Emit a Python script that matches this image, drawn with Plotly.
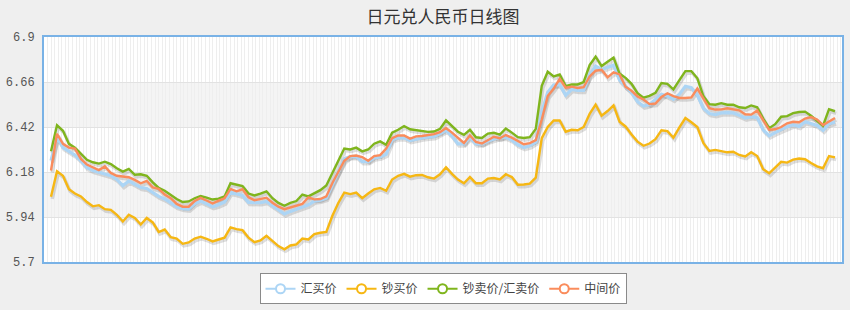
import plotly.graph_objects as go

# ---- data ----
idx = list(range(132))

# 汇买价
buy = [6.241, 6.366, 6.31, 6.29, 6.27, 6.24, 6.203, 6.188, 6.18, 6.172,
       6.16, 6.14, 6.107, 6.132, 6.115, 6.097, 6.092, 6.07, 6.05, 6.036,
       6.015, 5.995, 5.985, 5.982, 6.01, 6.025, 6.01, 5.995, 6.005, 6.02,
       6.072, 6.065, 6.055, 6.018, 6.015, 6.016, 6.023, 6.0, 5.98, 5.956,
       5.97, 5.982, 5.99, 6.005, 6.025, 6.03, 6.04, 6.11, 6.19, 6.25,
       6.262, 6.263, 6.235, 6.235, 6.255, 6.26, 6.275, 6.352, 6.363, 6.362,
       6.347, 6.356, 6.362, 6.366, 6.368, 6.385, 6.402, 6.372, 6.33, 6.33,
       6.365, 6.33, 6.33, 6.345, 6.355, 6.365, 6.365, 6.35, 6.325, 6.31,
       6.32, 6.34, 6.50, 6.605, 6.645, 6.645, 6.59, 6.62, 6.615, 6.615,
       6.70, 6.745, 6.727, 6.74, 6.75, 6.67, 6.635, 6.605, 6.555, 6.532,
       6.54, 6.57, 6.595, 6.585, 6.568, 6.595, 6.637, 6.63, 6.59, 6.52,
       6.492, 6.486, 6.495, 6.497, 6.495, 6.482, 6.468, 6.475, 6.47, 6.405,
       6.373, 6.39, 6.405, 6.422, 6.432, 6.423, 6.448, 6.44, 6.428, 6.402,
       6.438, 6.445]

# 钞买价
cash_buy = [6.048, 6.184, 6.16, 6.088, 6.065, 6.05, 6.02, 5.997, 6.003, 5.982,
            5.978, 5.952, 5.916, 5.952, 5.935, 5.9, 5.935, 5.911, 5.86, 5.873,
            5.832, 5.825, 5.797, 5.804, 5.825, 5.835, 5.824, 5.81, 5.82, 5.83,
            5.885, 5.875, 5.87, 5.83, 5.806, 5.815, 5.84, 5.815, 5.785, 5.768,
            5.788, 5.794, 5.825, 5.82, 5.849, 5.856, 5.86, 5.945, 6.015, 6.07,
            6.062, 6.07, 6.04, 6.065, 6.088, 6.095, 6.08, 6.14, 6.16, 6.17,
            6.155, 6.163, 6.164, 6.152, 6.145, 6.168, 6.205, 6.17, 6.14, 6.12,
            6.153, 6.12, 6.12, 6.145, 6.148, 6.14, 6.168, 6.153, 6.112, 6.113,
            6.118, 6.15, 6.36, 6.42, 6.455, 6.455, 6.395, 6.405, 6.403, 6.42,
            6.49, 6.539, 6.48, 6.505, 6.535, 6.448, 6.423, 6.38, 6.342, 6.32,
            6.332, 6.355, 6.403, 6.398, 6.363, 6.418, 6.468, 6.445, 6.42, 6.335,
            6.292, 6.298, 6.29, 6.285, 6.288, 6.271, 6.263, 6.285, 6.265, 6.195,
            6.173, 6.205, 6.234, 6.23, 6.246, 6.252, 6.248, 6.228, 6.21, 6.2,
            6.265, 6.258]

# 钞卖价/汇卖价
sell = [6.291, 6.429, 6.40, 6.33, 6.31, 6.28, 6.245, 6.232, 6.225, 6.235,
        6.222, 6.20, 6.182, 6.196, 6.165, 6.168, 6.16, 6.125, 6.095, 6.08,
        6.058, 6.036, 6.02, 6.023, 6.04, 6.052, 6.043, 6.033, 6.038, 6.05,
        6.12, 6.112, 6.105, 6.065, 6.055, 6.065, 6.077, 6.04, 6.015, 6.0,
        6.015, 6.025, 6.06, 6.05, 6.065, 6.083, 6.108, 6.175, 6.245, 6.305,
        6.30, 6.31, 6.29, 6.30, 6.331, 6.343, 6.325, 6.39, 6.405, 6.425,
        6.408, 6.402, 6.399, 6.394, 6.396, 6.41, 6.455, 6.425, 6.395, 6.378,
        6.405, 6.365, 6.361, 6.385, 6.389, 6.379, 6.412, 6.39, 6.366, 6.361,
        6.366, 6.41, 6.64, 6.715, 6.69, 6.70, 6.638, 6.647, 6.647, 6.66,
        6.75, 6.795, 6.745, 6.768, 6.79, 6.705, 6.682, 6.65, 6.60, 6.576,
        6.586, 6.602, 6.655, 6.65, 6.62, 6.67, 6.718, 6.718, 6.68, 6.585,
        6.542, 6.539, 6.547, 6.539, 6.539, 6.525, 6.521, 6.535, 6.525, 6.465,
        6.414, 6.435, 6.475, 6.478, 6.494, 6.50, 6.502, 6.48, 6.455, 6.427,
        6.515, 6.504]

# 中间价
mid = [6.188, 6.384, 6.33, 6.31, 6.305, 6.25, 6.22, 6.205, 6.19, 6.21,
       6.175, 6.16, 6.155, 6.152, 6.138, 6.12, 6.132, 6.098, 6.09, 6.06,
       6.04, 6.01, 5.995, 5.995, 6.025, 6.042, 6.028, 6.012, 6.027, 6.04,
       6.09, 6.077, 6.088, 6.045, 6.03, 6.035, 6.043, 6.016, 5.995, 5.982,
       5.99, 5.998, 6.01, 6.045, 6.034, 6.036, 6.05, 6.12, 6.18, 6.24,
       6.265, 6.268, 6.26, 6.24, 6.265, 6.27, 6.305, 6.36, 6.375, 6.375,
       6.358, 6.37, 6.372, 6.377, 6.382, 6.392, 6.415, 6.39, 6.365, 6.335,
       6.375, 6.34, 6.332, 6.352, 6.368, 6.36, 6.377, 6.363, 6.344, 6.328,
       6.334, 6.35, 6.46, 6.585, 6.625, 6.677, 6.63, 6.635, 6.628, 6.632,
       6.69, 6.72, 6.725, 6.685, 6.712, 6.70, 6.635, 6.613, 6.583, 6.567,
       6.542, 6.545, 6.58, 6.60, 6.585, 6.575, 6.575, 6.578, 6.625, 6.575,
       6.52, 6.513, 6.514, 6.52, 6.516, 6.509, 6.488, 6.486, 6.508, 6.455,
       6.405, 6.408, 6.42, 6.44, 6.448, 6.445, 6.465, 6.473, 6.46, 6.43,
       6.45, 6.468]

names = ["汇买价", "钞买价", "钞卖价/汇卖价", "中间价"]
series = [buy, cash_buy, sell, mid]
colors = ["#acd5f5", "#f6b713", "#7fb51d", "#fa8c5c"]
widths = [3.2, 2.4, 2.4, 2.4]

y_ticks = [5.7, 5.94, 6.18, 6.42, 6.66, 6.9]
y_tick_text = ["5.7", "5.94", "6.18", "6.42", "6.66", "6.9"]

# ---- figure ----
x_range = [-1.17, 132.17]
y_range = [5.7, 6.9]
dx, dy = 0.2, 0.011  # shadow offset (about 1 px right, 2 px down)

fig = go.Figure()

# legend-only entries
for name, col in zip(names, colors):
    fig.add_trace(go.Scatter(
        x=[None], y=[None], name=name, mode="lines+markers",
        line=dict(color=col, width=2),
        marker=dict(symbol="circle", size=9, color="white",
                    line=dict(color=col, width=2)),
        xaxis="x", yaxis="y", showlegend=True))

# shadows
for s in series:
    fig.add_trace(go.Scatter(
        x=idx, y=s, mode="lines", showlegend=False, hoverinfo="skip",
        line=dict(color="rgba(0,0,0,0.13)", width=3.5),
        xaxis="x2", yaxis="y2"))

# main lines
for name, s, col, w in zip(names, series, colors, widths):
    fig.add_trace(go.Scatter(
        x=idx, y=s, mode="lines", name=name, showlegend=False,
        line=dict(color=col, width=w),
        xaxis="x3", yaxis="y3"))

# alternating bands
shapes = []
for i in range(len(y_ticks) - 1):
    if i % 2 == 1:
        shapes.append(dict(type="rect", xref="paper", yref="y",
                           x0=0, x1=1, y0=y_ticks[i], y1=y_ticks[i + 1],
                           fillcolor="#f4f4f4", line=dict(width=0),
                           layer="below"))

fig.update_layout(
    width=850, height=310,
    margin=dict(l=43, r=6, t=37, b=47),
    paper_bgcolor="#efefef",
    plot_bgcolor="white",
    shapes=shapes,
    title=dict(text="日元兑人民币日线图", x=0.5, xref="paper",
               y=1 - 17 / 310, yref="container", yanchor="middle",
               font=dict(family="Noto Sans CJK SC", size=17, color="#333")),
    xaxis=dict(range=x_range, showgrid=True, gridcolor="#eeeeee", gridwidth=1,
               tick0=0, dtick=0.6, showticklabels=False, ticks="",
               zeroline=False, showline=True, mirror=True,
               linecolor="#79b2e6", linewidth=2, fixedrange=True),
    yaxis=dict(range=y_range, tickmode="array", tickvals=y_ticks,
               ticktext=y_tick_text, showgrid=True, gridcolor="#e2e2e2",
               zeroline=False, showline=True, mirror=True,
               linecolor="#79b2e6", linewidth=2, ticks="",
               ticklabelstandoff=5,
               tickfont=dict(family="Liberation Mono", size=12, color="#555")),
    xaxis2=dict(range=[x_range[0] - dx, x_range[1] - dx], overlaying="x",
                visible=False, fixedrange=True),
    yaxis2=dict(range=[y_range[0] + dy, y_range[1] + dy], overlaying="y",
                visible=False),
    xaxis3=dict(range=x_range, overlaying="x", visible=False, fixedrange=True),
    yaxis3=dict(range=y_range, overlaying="y", visible=False),
    legend=dict(orientation="h", x=0.5, xanchor="center",
                y=-0.05, yanchor="top", bgcolor="white",
                bordercolor="#8a8a8a", borderwidth=1,
                font=dict(family="Noto Sans CJK SC", size=12, color="#444"),
                itemwidth=30, tracegroupgap=0),
    showlegend=True,
)

fig.write_html("out.html")
